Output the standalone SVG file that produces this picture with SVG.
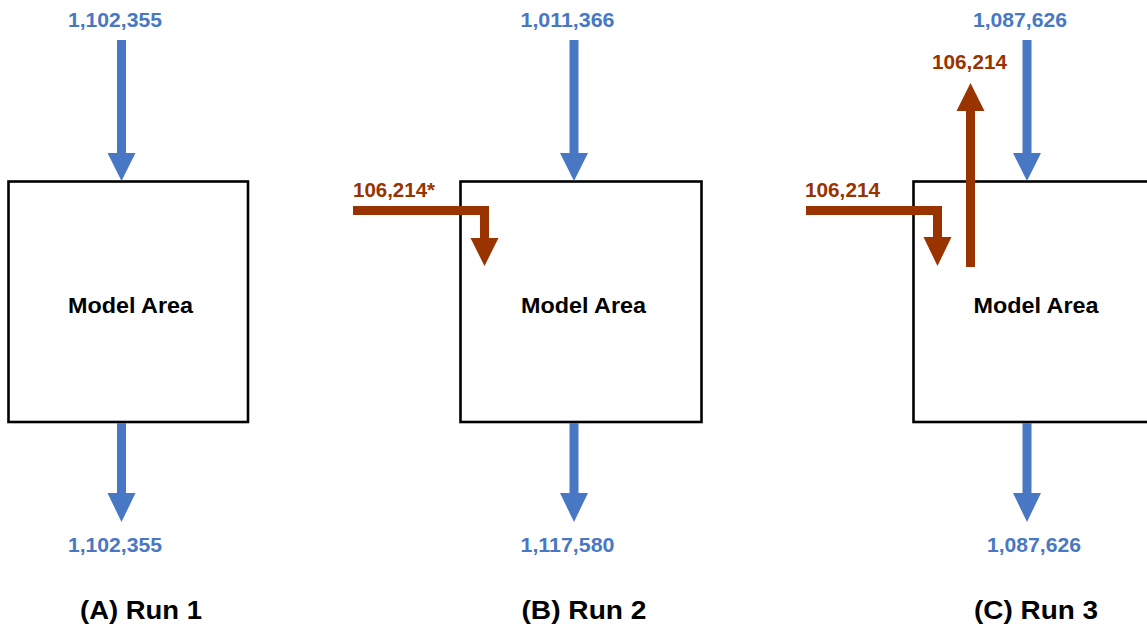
<svg xmlns="http://www.w3.org/2000/svg" width="1147" height="632" viewBox="0 0 1147 632">
<style>
.box{fill:#ffffff;stroke:#000000;stroke-width:2.6}
.blue{fill:#4878c4}
.red{fill:#993300}
text{font-family:"Liberation Sans",Arial,sans-serif;font-weight:bold;text-anchor:middle}
.lb{fill:#4878c4;font-size:20.5px}
.lr{fill:#993300;font-size:20.5px}
.ma{fill:#000000;font-size:22px}
.cap{fill:#000000;font-size:25px}
</style>
<rect width="1147" height="632" fill="#ffffff"/>
<g id="panelA">
  <g id="boxA"><rect class="box" x="8.5" y="181.5" width="239.5" height="240.5"/><text class="ma" x="130.5" y="313" textLength="125" lengthAdjust="spacingAndGlyphs">Model Area</text></g>
  <text id="inA" class="lb" x="115" y="27" textLength="94" lengthAdjust="spacingAndGlyphs">1,102,355</text>
  <text id="outA" class="lb" x="115" y="552" textLength="94" lengthAdjust="spacingAndGlyphs">1,102,355</text>
  <text id="capA" class="cap" x="141" y="619" textLength="122" lengthAdjust="spacingAndGlyphs">(A) Run 1</text>
</g>
<g id="panelB">
  <g id="boxB"><rect class="box" x="460.5" y="181.5" width="241" height="240.5"/><text class="ma" x="583.5" y="313" textLength="125" lengthAdjust="spacingAndGlyphs">Model Area</text></g>
  <text id="inB" class="lb" x="567.5" y="27" textLength="94" lengthAdjust="spacingAndGlyphs">1,011,366</text>
  <text id="outB" class="lb" x="567.5" y="552" textLength="94" lengthAdjust="spacingAndGlyphs">1,117,580</text>
  <text id="redB" class="lr" x="394" y="197" textLength="82" lengthAdjust="spacingAndGlyphs">106,214*</text>
  <text id="capB" class="cap" x="584" y="619" textLength="125" lengthAdjust="spacingAndGlyphs">(B) Run 2</text>
</g>
<g id="panelC">
  <g id="boxC"><rect class="box" x="913.5" y="181.5" width="240" height="240.5"/><text class="ma" x="1036" y="313" textLength="125" lengthAdjust="spacingAndGlyphs">Model Area</text></g>
  <text id="inC" class="lb" x="1020" y="27" textLength="94" lengthAdjust="spacingAndGlyphs">1,087,626</text>
  <text id="outC" class="lb" x="1034" y="552" textLength="94" lengthAdjust="spacingAndGlyphs">1,087,626</text>
  <text id="redC1" class="lr" x="842.5" y="197" textLength="75" lengthAdjust="spacingAndGlyphs">106,214</text>
  <text id="redC2" class="lr" x="969.5" y="69" textLength="75" lengthAdjust="spacingAndGlyphs">106,214</text>
  <text id="capC" class="cap" x="1036" y="619" textLength="124" lengthAdjust="spacingAndGlyphs">(C) Run 3</text>
</g>
<g id="connectors">
  <path class="blue" d="M117,40 H126 V153 H135.5 L121.5,181 L107.5,153 H117 Z"/>
  <path class="blue" d="M117,423 H126 V493 H135.5 L121.5,522 L107.5,493 H117 Z"/>
  <path class="blue" d="M569.5,40 H578.5 V153 H588 L574,181 L560,153 H569.5 Z"/>
  <path class="blue" d="M569.5,423 H578.5 V493 H588 L574,522 L560,493 H569.5 Z"/>
  <path class="blue" d="M1022.5,40 H1031.5 V153 H1041 L1027,181 L1013,153 H1022.5 Z"/>
  <path class="blue" d="M1022.5,423 H1031.5 V493 H1041 L1027,522 L1013,493 H1022.5 Z"/>
  <path class="red" d="M353,206 H489 V238 H498.5 L484.5,266 L470.5,238 H480 V215 H353 Z"/>
  <path class="red" d="M806,206 H942 V237 H951.5 L937.5,266 L923.5,237 H933 V215 H806 Z"/>
  <path class="red" d="M966,267 V111 H956.5 L970.5,83 L984.5,111 H975 V267 Z"/>
</g>
</svg>
